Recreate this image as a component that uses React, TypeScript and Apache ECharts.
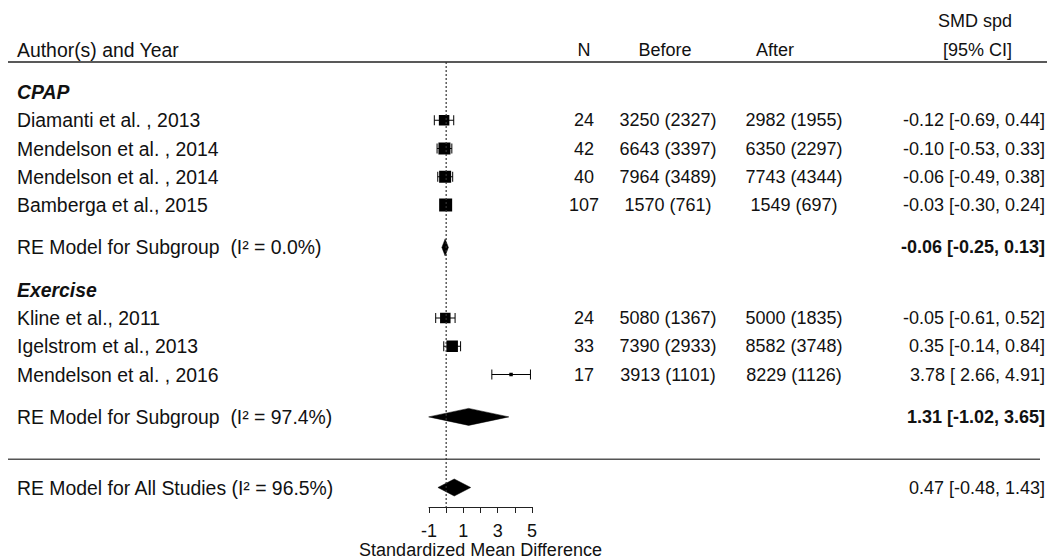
import React, { useEffect, useRef } from "react";
import * as echarts from "echarts";

// ---------- data ----------
const studyNames = [
  "Diamanti et al. , 2013",
  "Mendelson et al. , 2014",
  "Mendelson et al. , 2014",
  "Bamberga et al., 2015",
  "Kline et al., 2011",
  "Igelstrom et al., 2013",
  "Mendelson et al. , 2016",
];
const studyRows = [1, 2, 3, 4, 8, 9, 10];
const nValues = [24, 42, 40, 107, 24, 33, 17];
const beforeValues = ["3250 (2327)", "6643 (3397)", "7964 (3489)", "1570 (761)", "5080 (1367)", "7390 (2933)", "3913 (1101)"];
const afterValues = ["2982 (1955)", "6350 (2297)", "7743 (4344)", "1549 (697)", "5000 (1835)", "8582 (3748)", "8229 (1126)"];
const smd = [-0.12, -0.10, -0.06, -0.03, -0.05, 0.35, 3.78];
const ciLow = [-0.69, -0.53, -0.49, -0.30, -0.61, -0.14, 2.66];
const ciHigh = [0.44, 0.33, 0.38, 0.24, 0.52, 0.84, 4.91];
const boxSizes = [10.5, 12, 12, 13, 10.5, 11.5, 3.5];

const groupNames = ["CPAP", "Exercise"];
const groupRows = [0, 7];

const summaryLabels = [
  "RE Model for Subgroup  (I\u00B2 = 0.0%)",
  "RE Model for Subgroup  (I\u00B2 = 97.4%)",
  "RE Model for All Studies (I\u00B2 = 96.5%)",
];
const summaryRows = [5.5, 11.5, 14];
const summaryEst = [-0.06, 1.31, 0.47];
const summaryLow = [-0.25, -1.02, -0.48];
const summaryHigh = [0.13, 3.65, 1.43];
const summaryBold = [true, true, false];

const headerLabels = ["Author(s) and Year", "N", "Before", "After", "SMD spd", "[95% CI]"];
const xTicks = [-1, 0, 1, 2, 3, 4, 5];
const xAxisTitle = "Standardized Mean Difference";

// ---------- layout ----------
const W = 1047;
const H = 560;
const ROW0 = 92;
const ROWH = 28.25;
const HEADER_LINE_Y = 62;
const AXIS_Y = 507;
const PLOT_LEFT = 429;
const PLOT_RIGHT = 532;
const COL_AUTHOR = 17;
const COL_N = 584;
const COL_BEFORE = 668;
const COL_AFTER = 794;
const COL_CI = 1045;
const HEAD_BEFORE = 665;
const HEAD_AFTER = 775;
const HEAD_CI = 1012;
const FONT = "'Liberation Sans', Arial, Helvetica, sans-serif";
const FS = 18;
const FS_LEFT = 19.4;

const rowOfY = (y: number) => (y - ROW0) / ROWH;

const fmt = (v: number) => v.toFixed(2);
const fmtLow = (v: number) => (v < 0 ? v.toFixed(2) : " " + v.toFixed(2));
const ciText = (e: number, l: number, h: number) => `${fmt(e)} [${fmtLow(l)}, ${fmt(h)}]`;

type TItem = { x: number; row: number; text: string; align: string; font: string };

function buildTextItems(): TItem[] {
  const plain = `${FS}px ${FONT}`;
  const left = `${FS_LEFT}px ${FONT}`;
  const bold = `bold ${FS}px ${FONT}`;
  const ib = `italic bold ${FS_LEFT}px ${FONT}`;
  const items: TItem[] = [];
  // headers
  items.push({ x: COL_AUTHOR, row: -1.5, text: headerLabels[0], align: "left", font: left });
  items.push({ x: COL_N, row: -1.5, text: headerLabels[1], align: "center", font: plain });
  items.push({ x: HEAD_BEFORE, row: -1.5, text: headerLabels[2], align: "center", font: plain });
  items.push({ x: HEAD_AFTER, row: -1.5, text: headerLabels[3], align: "center", font: plain });
  items.push({ x: HEAD_CI, row: -2.5, text: headerLabels[4], align: "right", font: plain });
  items.push({ x: HEAD_CI, row: -1.5, text: headerLabels[5], align: "right", font: plain });
  groupNames.forEach((g, i) => items.push({ x: COL_AUTHOR, row: groupRows[i], text: g, align: "left", font: ib }));
  studyNames.forEach((s, i) => {
    const r = studyRows[i];
    items.push({ x: COL_AUTHOR, row: r, text: s, align: "left", font: left });
    items.push({ x: COL_N, row: r, text: String(nValues[i]), align: "center", font: plain });
    items.push({ x: COL_BEFORE, row: r, text: beforeValues[i], align: "center", font: plain });
    items.push({ x: COL_AFTER, row: r, text: afterValues[i], align: "center", font: plain });
    items.push({ x: COL_CI, row: r, text: ciText(smd[i], ciLow[i], ciHigh[i]), align: "right", font: plain });
  });
  summaryLabels.forEach((s, i) => {
    const r = summaryRows[i];
    items.push({ x: COL_AUTHOR, row: r, text: s, align: "left", font: left });
    items.push({
      x: COL_CI,
      row: r,
      text: ciText(summaryEst[i], summaryLow[i], summaryHigh[i]),
      align: "right",
      font: summaryBold[i] ? bold : plain,
    });
  });
  return items;
}

const hLines = [
  { x1: 8, x2: W, row: rowOfY(HEADER_LINE_Y), color: "#222" },
  { x1: 8, x2: 1040, row: 13, color: "#555" },
];

export default function App() {
  const ref = useRef<HTMLDivElement>(null);
  useEffect(() => {
    document.body.style.margin = "0";
    if (!ref.current) return;
    const chart = echarts.init(ref.current, undefined, { renderer: "svg" });
    const textItems = buildTextItems();

    const fMin = rowOfY(HEADER_LINE_Y);
    const fMax = rowOfY(AXIS_Y);
    const tMin = -3;
    const tMax = 16;

    const option: any = {
      animation: false,
      backgroundColor: "#ffffff",
      grid: [
        {
          left: 0,
          right: 0,
          top: ROW0 + tMin * ROWH,
          bottom: H - (ROW0 + tMax * ROWH),
          containLabel: false,
          outerBoundsMode: "none",
        },
        {
          left: PLOT_LEFT,
          right: W - PLOT_RIGHT,
          top: HEADER_LINE_Y,
          bottom: H - AXIS_Y,
          containLabel: false,
          outerBoundsMode: "none",
        },
      ],
      xAxis: [
        { gridIndex: 0, type: "value", min: 0, max: W, show: false },
        {
          gridIndex: 1,
          type: "value",
          min: xTicks[0],
          max: xTicks[xTicks.length - 1],
          interval: 1,
          splitLine: { show: false },
          axisLine: { show: true, onZero: false, lineStyle: { color: "#222", width: 1 } },
          axisTick: { show: true, length: 6, lineStyle: { color: "#222", width: 1 } },
          axisLabel: {
            color: "#111",
            fontSize: FS,
            fontFamily: FONT,
            margin: 15,
            formatter: (v: number) => (Math.abs(v % 2) === 1 ? String(v) : ""),
          },
          name: xAxisTitle,
          nameLocation: "middle",
          nameGap: 34,
          nameMoveOverlap: false,
          nameTextStyle: { color: "#111", fontSize: FS, fontFamily: FONT },
        },
      ],
      yAxis: [
        { gridIndex: 0, type: "value", min: tMin, max: tMax, inverse: true, show: false },
        { gridIndex: 1, type: "value", min: fMin, max: fMax, inverse: true, show: false },
      ],
      series: [
        // reference dotted line at 0
        {
          type: "line",
          xAxisIndex: 1,
          yAxisIndex: 1,
          data: [
            [0, fMin],
            [0, fMax],
          ],
          symbol: "none",
          silent: true,
          lineStyle: { color: "#333", width: 1.2, type: [2, 2] },
        },
        // horizontal separator lines
        {
          type: "custom",
          xAxisIndex: 0,
          yAxisIndex: 0,
          silent: true,
          data: hLines.map((l) => [l.x1, l.row]),
          renderItem: (params: any, api: any) => {
            const l = hLines[params.dataIndex];
            const p1 = api.coord([l.x1, l.row]);
            const p2 = api.coord([l.x2, l.row]);
            return {
              type: "line",
              shape: { x1: p1[0], y1: p1[1], x2: p2[0], y2: p2[1] },
              style: { stroke: l.color, lineWidth: 1.3 },
            };
          },
        },
        // texts
        {
          type: "custom",
          xAxisIndex: 0,
          yAxisIndex: 0,
          silent: true,
          data: textItems.map((t) => [t.x, t.row]),
          renderItem: (params: any, api: any) => {
            const t = textItems[params.dataIndex];
            const p = api.coord([t.x, t.row]);
            return {
              type: "text",
              x: p[0],
              y: p[1],
              style: {
                text: t.text,
                textAlign: t.align,
                textVerticalAlign: "middle",
                font: t.font,
                fill: "#111",
              },
            };
          },
        },
        // study boxes + CIs
        {
          type: "custom",
          xAxisIndex: 1,
          yAxisIndex: 1,
          silent: true,
          clip: false,
          data: smd.map((v, i) => [v, studyRows[i]]),
          renderItem: (params: any, api: any) => {
            const i = params.dataIndex;
            const r = studyRows[i];
            const pe = api.coord([smd[i], r]);
            const pl = api.coord([ciLow[i], r]);
            const ph = api.coord([ciHigh[i], r]);
            const s = boxSizes[i];
            const tick = 5;
            const st = { stroke: "#000", lineWidth: 1 };
            return {
              type: "group",
              children: [
                { type: "line", shape: { x1: pl[0], y1: pl[1], x2: ph[0], y2: ph[1] }, style: st },
                { type: "line", shape: { x1: pl[0], y1: pl[1] - tick, x2: pl[0], y2: pl[1] + tick }, style: st },
                { type: "line", shape: { x1: ph[0], y1: ph[1] - tick, x2: ph[0], y2: ph[1] + tick }, style: st },
                { type: "rect", shape: { x: pe[0] - s / 2, y: pe[1] - s / 2, width: s, height: s }, style: { fill: "#000" } },
              ],
            };
          },
        },
        // summary diamonds
        {
          type: "custom",
          xAxisIndex: 1,
          yAxisIndex: 1,
          silent: true,
          clip: false,
          data: summaryEst.map((v, i) => [v, summaryRows[i]]),
          renderItem: (params: any, api: any) => {
            const i = params.dataIndex;
            const r = summaryRows[i];
            const pe = api.coord([summaryEst[i], r]);
            const pl = api.coord([summaryLow[i], r]);
            const ph = api.coord([summaryHigh[i], r]);
            const hh = 8.5;
            return {
              type: "polygon",
              shape: {
                points: [
                  [pl[0], pl[1]],
                  [pe[0], pe[1] - hh],
                  [ph[0], ph[1]],
                  [pe[0], pe[1] + hh],
                ],
              },
              style: { fill: "#000", stroke: "#000", lineWidth: 0.5 },
            };
          },
        },
      ],
    };
    chart.setOption(option);
    return () => chart.dispose();
  }, []);
  return <div ref={ref} style={{ width: W, height: H }} />;
}
